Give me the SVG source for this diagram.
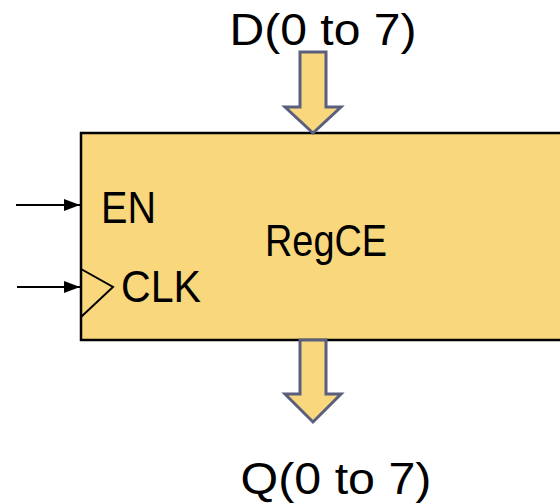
<svg xmlns="http://www.w3.org/2000/svg" width="560" height="504" viewBox="0 0 560 504">
<style>
text{font-family:"Liberation Sans",Arial,sans-serif;fill:#000;font-size:44px}
.bus{fill:#F9D77D;stroke:#5A5F7E;stroke-width:3;stroke-linejoin:miter}
.wire{stroke:#000;stroke-width:2;fill:none}
</style>
<defs>
<marker id="ah" markerWidth="16" markerHeight="12" refX="16" refY="6" orient="auto" markerUnits="userSpaceOnUse">
<path d="M0,0 L16,6 L0,12 Z" fill="#000"/>
</marker>
</defs>
<g id="regce">
<rect x="81" y="133" width="490" height="207" fill="#F9D77D" stroke="#000" stroke-width="2.5"/>
<polyline points="81,269 113,287 81,317" fill="none" stroke="#000" stroke-width="2"/>
<text x="326" y="256" text-anchor="middle" textLength="122" lengthAdjust="spacingAndGlyphs">RegCE</text>
<text x="101" y="223" textLength="55" lengthAdjust="spacingAndGlyphs">EN</text>
<text x="121" y="302" textLength="80" lengthAdjust="spacingAndGlyphs">CLK</text>
</g>
<g id="d-in">
<text x="323" y="45" text-anchor="middle" textLength="187" lengthAdjust="spacingAndGlyphs">D(0 to 7)</text>
</g>
<g id="q-out">
<text x="336" y="494" text-anchor="middle" textLength="191" lengthAdjust="spacingAndGlyphs">Q(0 to 7)</text>
</g>
<g id="connectors">
<polygon class="bus" points="300,52 326,52 326,107 341,107 313,133 285,107 300,107"/>
<polygon class="bus" points="300,340 326,340 326,394 341,394 313,422 285,394 300,394"/>
<line class="wire" x1="16" y1="205" x2="80" y2="205" marker-end="url(#ah)"/>
<line class="wire" x1="17" y1="287" x2="80" y2="287" marker-end="url(#ah)"/>
</g>
</svg>
